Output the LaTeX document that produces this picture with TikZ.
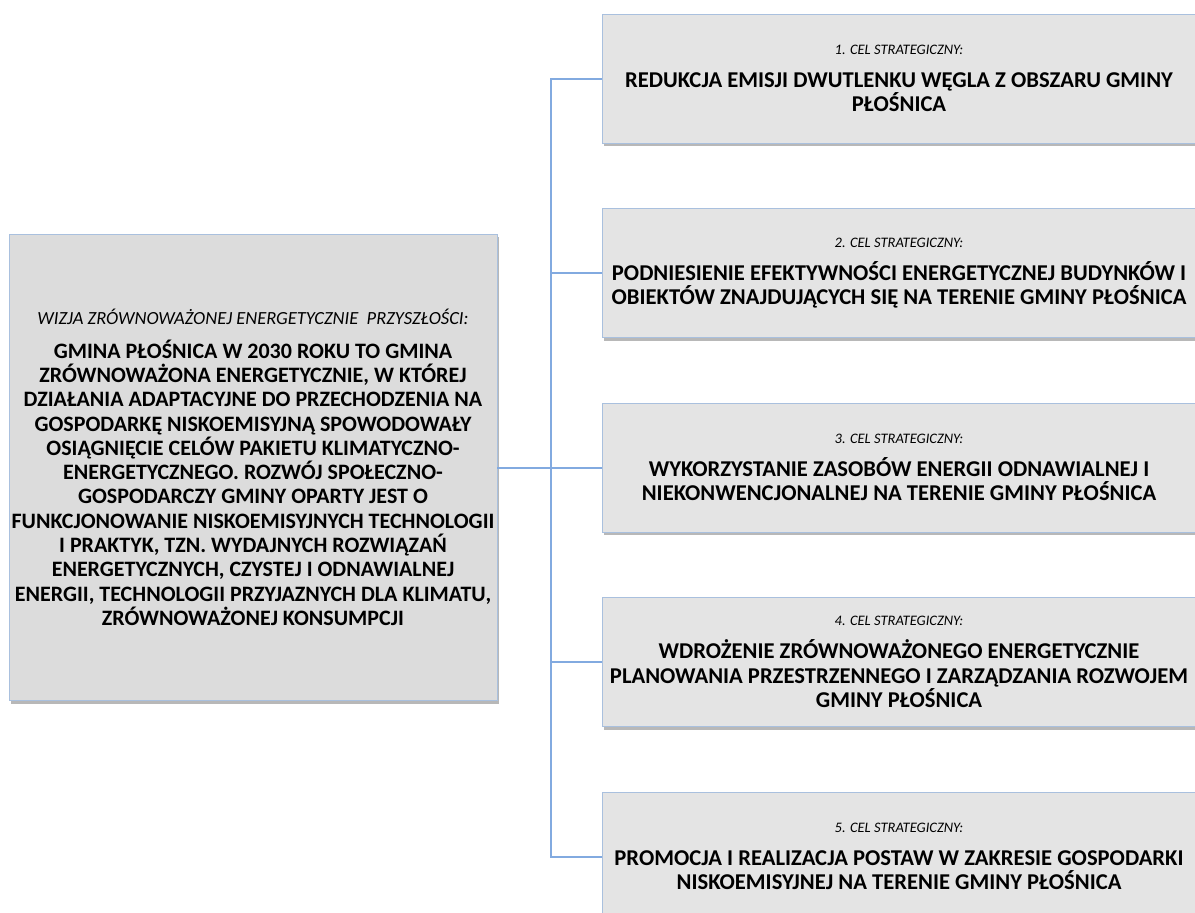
\documentclass[tikz,border=0pt]{standalone}
\usepackage{fontspec}
\setmainfont{Carlito}
\definecolor{boxfill}{HTML}{E4E4E4}
\definecolor{leftfill}{HTML}{DCDCDC}
\definecolor{boxedge}{HTML}{A9C0DE}
\definecolor{linkcol}{HTML}{82AAE0}
\definecolor{shadowcol}{HTML}{B8B8B8}
\begin{document}
\begin{tikzpicture}[x=1pt,y=-1pt,
  goalbox/.style={draw=boxedge, line width=0.8pt, fill=boxfill, minimum width=594pt, minimum height=129pt,
    inner sep=0pt, align=center, text=black,
    font=\fontsize{22.6}{24.3}\selectfont\bfseries},
  visionbox/.style={goalbox, fill=leftfill, minimum width=488pt, minimum height=466pt,
    font=\fontsize{22}{24.3}\selectfont\bfseries},
  link/.style={draw=linkcol, line width=2pt}]
\newcommand{\subtitle}[2][14.5]{{\fontsize{#1}{17}\selectfont\mdseries\itshape #2}\\[9pt]}
\clip (0,0) rectangle (1195,913);
\fill[white] (0,0) rectangle (1195,913);
% shadows
\fill[shadowcol] (11,236.5) rectangle (499,703.5);
\foreach \y in {78.5,273,467.5,662,856.5}{
  \fill[shadowcol] (604,\y-62.5) rectangle (1198,\y+67.5);
}
\node[visionbox] (vis) at (253,467.5) {\subtitle[18.5]{WIZJA ZRÓWNOWAŻONEJ ENERGETYCZNIE\ \ PRZYSZŁOŚCI:}
GMINA PŁOŚNICA W 2030 ROKU TO GMINA\\
ZRÓWNOWAŻONA ENERGETYCZNIE, W KTÓREJ\\
DZIAŁANIA ADAPTACYJNE DO PRZECHODZENIA NA\\
GOSPODARKĘ NISKOEMISYJNĄ SPOWODOWAŁY\\
OSIĄGNIĘCIE CELÓW PAKIETU KLIMATYCZNO-\\
ENERGETYCZNEGO. ROZWÓJ SPOŁECZNO-\\
GOSPODARCZY GMINY OPARTY JEST O\\
FUNKCJONOWANIE NISKOEMISYJNYCH TECHNOLOGII\\
I PRAKTYK, TZN. WYDAJNYCH ROZWIĄZAŃ\\
ENERGETYCZNYCH, CZYSTEJ I ODNAWIALNEJ\\
ENERGII, TECHNOLOGII PRZYJAZNYCH DLA KLIMATU,\\
ZRÓWNOWAŻONEJ KONSUMPCJI};
\node[goalbox] (c1) at (899,78.5) {\subtitle{1. CEL STRATEGICZNY:}
REDUKCJA EMISJI DWUTLENKU WĘGLA Z OBSZARU GMINY\\
PŁOŚNICA};
\node[goalbox] (c2) at (899,273) {\subtitle{2. CEL STRATEGICZNY:}
PODNIESIENIE EFEKTYWNOŚCI ENERGETYCZNEJ BUDYNKÓW I\\
OBIEKTÓW ZNAJDUJĄCYCH SIĘ NA TERENIE GMINY PŁOŚNICA};
\node[goalbox] (c3) at (899,467.5) {\subtitle{3. CEL STRATEGICZNY:}
WYKORZYSTANIE ZASOBÓW ENERGII ODNAWIALNEJ I\\
NIEKONWENCJONALNEJ NA TERENIE GMINY PŁOŚNICA};
\node[goalbox] (c4) at (899,662) {\subtitle{4. CEL STRATEGICZNY:}
WDROŻENIE ZRÓWNOWAŻONEGO ENERGETYCZNIE\\
PLANOWANIA PRZESTRZENNEGO I ZARZĄDZANIA ROZWOJEM\\
GMINY PŁOŚNICA};
\node[goalbox] (c5) at (899,856.5) {\subtitle{5. CEL STRATEGICZNY:}
PROMOCJA I REALIZACJA POSTAW W ZAKRESIE GOSPODARKI\\
NISKOEMISYJNEJ NA TERENIE GMINY PŁOŚNICA};
\coordinate (t) at (551,467.5);
\draw[link] (vis.east) -- (t);
\draw[link] (c1.west) -| (t) |- (c5.west);
\draw[link] (c2.west) -- (c2.west -| t);
\draw[link] (c3.west) -- (c3.west -| t);
\draw[link] (c4.west) -- (c4.west -| t);
\end{tikzpicture}
\end{document}
